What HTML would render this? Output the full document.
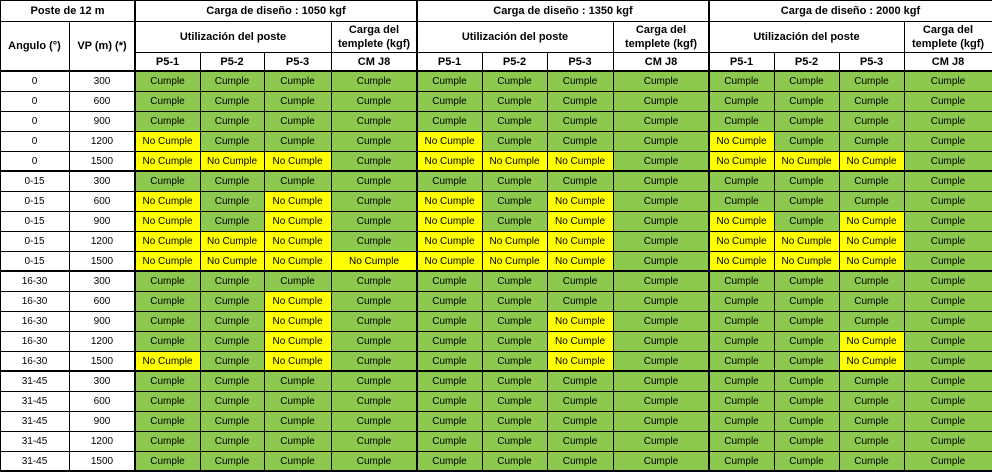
<!DOCTYPE html>
<html><head><meta charset="utf-8">
<style>
*{margin:0;padding:0;box-sizing:border-box}
html,body{width:992px;height:473px;background:#fff;overflow:hidden}
body{position:relative;font-family:"Liberation Sans",Arial,sans-serif;color:#000}
.h{position:absolute;display:flex;align-items:center;justify-content:center;text-align:center;font-weight:bold;font-size:11px;line-height:14px;white-space:nowrap}
#d{position:absolute;left:0;top:71px;width:992px;height:400px;display:grid;
grid-template-columns:69px 66px 65px 64px 67px 86px 65px 65px 66px 96px 65px 65px 65px 88px;
grid-template-rows:repeat(20,20px);font-size:10px;line-height:21px;text-align:center}
#d div{white-space:nowrap;overflow:hidden}
.g{background:#8dc94e}
.y{background:#ffff00}
.w{background:#fff}
.l{position:absolute;background:#000}
</style></head><body>

<div class="h" style="left:0;top:0;width:135px;height:21px">Poste de 12 m</div>
<div class="h" style="left:0;top:21px;width:69px;height:50px">Angulo (°)</div>
<div class="h" style="left:69px;top:21px;width:66px;height:50px">VP (m) (*)</div>

<div class="h" style="left:135px;top:0;width:282px;height:21px">Carga de diseño : 1050 kgf</div>
<div class="h" style="left:135px;top:21px;width:196px;height:31px">Utilización del poste</div>
<div class="h" style="left:331px;top:21px;width:86px;height:31px">Carga del<br>templete (kgf)</div>
<div class="h" style="left:135px;top:52px;width:65px;height:19px">P5-1</div>
<div class="h" style="left:200px;top:52px;width:64px;height:19px">P5-2</div>
<div class="h" style="left:264px;top:52px;width:67px;height:19px">P5-3</div>
<div class="h" style="left:331px;top:52px;width:86px;height:19px">CM J8</div>

<div class="h" style="left:417px;top:0;width:292px;height:21px">Carga de diseño : 1350 kgf</div>
<div class="h" style="left:417px;top:21px;width:196px;height:31px">Utilización del poste</div>
<div class="h" style="left:613px;top:21px;width:96px;height:31px">Carga del<br>templete (kgf)</div>
<div class="h" style="left:417px;top:52px;width:65px;height:19px">P5-1</div>
<div class="h" style="left:482px;top:52px;width:65px;height:19px">P5-2</div>
<div class="h" style="left:547px;top:52px;width:66px;height:19px">P5-3</div>
<div class="h" style="left:613px;top:52px;width:96px;height:19px">CM J8</div>

<div class="h" style="left:709px;top:0;width:283px;height:21px">Carga de diseño : 2000 kgf</div>
<div class="h" style="left:709px;top:21px;width:195px;height:31px">Utilización del poste</div>
<div class="h" style="left:904px;top:21px;width:88px;height:31px">Carga del<br>templete (kgf)</div>
<div class="h" style="left:709px;top:52px;width:65px;height:19px">P5-1</div>
<div class="h" style="left:774px;top:52px;width:65px;height:19px">P5-2</div>
<div class="h" style="left:839px;top:52px;width:65px;height:19px">P5-3</div>
<div class="h" style="left:904px;top:52px;width:88px;height:19px">CM J8</div>

<div id="d">
<div class="w">0</div><div class="w">300</div><div class="g">Cumple</div><div class="g">Cumple</div><div class="g">Cumple</div><div class="g">Cumple</div><div class="g">Cumple</div><div class="g">Cumple</div><div class="g">Cumple</div><div class="g">Cumple</div><div class="g">Cumple</div><div class="g">Cumple</div><div class="g">Cumple</div><div class="g">Cumple</div>
<div class="w">0</div><div class="w">600</div><div class="g">Cumple</div><div class="g">Cumple</div><div class="g">Cumple</div><div class="g">Cumple</div><div class="g">Cumple</div><div class="g">Cumple</div><div class="g">Cumple</div><div class="g">Cumple</div><div class="g">Cumple</div><div class="g">Cumple</div><div class="g">Cumple</div><div class="g">Cumple</div>
<div class="w">0</div><div class="w">900</div><div class="g">Cumple</div><div class="g">Cumple</div><div class="g">Cumple</div><div class="g">Cumple</div><div class="g">Cumple</div><div class="g">Cumple</div><div class="g">Cumple</div><div class="g">Cumple</div><div class="g">Cumple</div><div class="g">Cumple</div><div class="g">Cumple</div><div class="g">Cumple</div>
<div class="w">0</div><div class="w">1200</div><div class="y">No Cumple</div><div class="g">Cumple</div><div class="g">Cumple</div><div class="g">Cumple</div><div class="y">No Cumple</div><div class="g">Cumple</div><div class="g">Cumple</div><div class="g">Cumple</div><div class="y">No Cumple</div><div class="g">Cumple</div><div class="g">Cumple</div><div class="g">Cumple</div>
<div class="w">0</div><div class="w">1500</div><div class="y">No Cumple</div><div class="y">No Cumple</div><div class="y">No Cumple</div><div class="g">Cumple</div><div class="y">No Cumple</div><div class="y">No Cumple</div><div class="y">No Cumple</div><div class="g">Cumple</div><div class="y">No Cumple</div><div class="y">No Cumple</div><div class="y">No Cumple</div><div class="g">Cumple</div>

<div class="w">0-15</div><div class="w">300</div><div class="g">Cumple</div><div class="g">Cumple</div><div class="g">Cumple</div><div class="g">Cumple</div><div class="g">Cumple</div><div class="g">Cumple</div><div class="g">Cumple</div><div class="g">Cumple</div><div class="g">Cumple</div><div class="g">Cumple</div><div class="g">Cumple</div><div class="g">Cumple</div>
<div class="w">0-15</div><div class="w">600</div><div class="y">No Cumple</div><div class="g">Cumple</div><div class="y">No Cumple</div><div class="g">Cumple</div><div class="y">No Cumple</div><div class="g">Cumple</div><div class="y">No Cumple</div><div class="g">Cumple</div><div class="g">Cumple</div><div class="g">Cumple</div><div class="g">Cumple</div><div class="g">Cumple</div>
<div class="w">0-15</div><div class="w">900</div><div class="y">No Cumple</div><div class="g">Cumple</div><div class="y">No Cumple</div><div class="g">Cumple</div><div class="y">No Cumple</div><div class="g">Cumple</div><div class="y">No Cumple</div><div class="g">Cumple</div><div class="y">No Cumple</div><div class="g">Cumple</div><div class="y">No Cumple</div><div class="g">Cumple</div>
<div class="w">0-15</div><div class="w">1200</div><div class="y">No Cumple</div><div class="y">No Cumple</div><div class="y">No Cumple</div><div class="g">Cumple</div><div class="y">No Cumple</div><div class="y">No Cumple</div><div class="y">No Cumple</div><div class="g">Cumple</div><div class="y">No Cumple</div><div class="y">No Cumple</div><div class="y">No Cumple</div><div class="g">Cumple</div>
<div class="w">0-15</div><div class="w">1500</div><div class="y">No Cumple</div><div class="y">No Cumple</div><div class="y">No Cumple</div><div class="y">No Cumple</div><div class="y">No Cumple</div><div class="y">No Cumple</div><div class="y">No Cumple</div><div class="g">Cumple</div><div class="y">No Cumple</div><div class="y">No Cumple</div><div class="y">No Cumple</div><div class="g">Cumple</div>

<div class="w">16-30</div><div class="w">300</div><div class="g">Cumple</div><div class="g">Cumple</div><div class="g">Cumple</div><div class="g">Cumple</div><div class="g">Cumple</div><div class="g">Cumple</div><div class="g">Cumple</div><div class="g">Cumple</div><div class="g">Cumple</div><div class="g">Cumple</div><div class="g">Cumple</div><div class="g">Cumple</div>
<div class="w">16-30</div><div class="w">600</div><div class="g">Cumple</div><div class="g">Cumple</div><div class="y">No Cumple</div><div class="g">Cumple</div><div class="g">Cumple</div><div class="g">Cumple</div><div class="g">Cumple</div><div class="g">Cumple</div><div class="g">Cumple</div><div class="g">Cumple</div><div class="g">Cumple</div><div class="g">Cumple</div>
<div class="w">16-30</div><div class="w">900</div><div class="g">Cumple</div><div class="g">Cumple</div><div class="y">No Cumple</div><div class="g">Cumple</div><div class="g">Cumple</div><div class="g">Cumple</div><div class="y">No Cumple</div><div class="g">Cumple</div><div class="g">Cumple</div><div class="g">Cumple</div><div class="g">Cumple</div><div class="g">Cumple</div>
<div class="w">16-30</div><div class="w">1200</div><div class="g">Cumple</div><div class="g">Cumple</div><div class="y">No Cumple</div><div class="g">Cumple</div><div class="g">Cumple</div><div class="g">Cumple</div><div class="y">No Cumple</div><div class="g">Cumple</div><div class="g">Cumple</div><div class="g">Cumple</div><div class="y">No Cumple</div><div class="g">Cumple</div>
<div class="w">16-30</div><div class="w">1500</div><div class="y">No Cumple</div><div class="g">Cumple</div><div class="y">No Cumple</div><div class="g">Cumple</div><div class="g">Cumple</div><div class="g">Cumple</div><div class="y">No Cumple</div><div class="g">Cumple</div><div class="g">Cumple</div><div class="g">Cumple</div><div class="y">No Cumple</div><div class="g">Cumple</div>

<div class="w">31-45</div><div class="w">300</div><div class="g">Cumple</div><div class="g">Cumple</div><div class="g">Cumple</div><div class="g">Cumple</div><div class="g">Cumple</div><div class="g">Cumple</div><div class="g">Cumple</div><div class="g">Cumple</div><div class="g">Cumple</div><div class="g">Cumple</div><div class="g">Cumple</div><div class="g">Cumple</div>
<div class="w">31-45</div><div class="w">600</div><div class="g">Cumple</div><div class="g">Cumple</div><div class="g">Cumple</div><div class="g">Cumple</div><div class="g">Cumple</div><div class="g">Cumple</div><div class="g">Cumple</div><div class="g">Cumple</div><div class="g">Cumple</div><div class="g">Cumple</div><div class="g">Cumple</div><div class="g">Cumple</div>
<div class="w">31-45</div><div class="w">900</div><div class="g">Cumple</div><div class="g">Cumple</div><div class="g">Cumple</div><div class="g">Cumple</div><div class="g">Cumple</div><div class="g">Cumple</div><div class="g">Cumple</div><div class="g">Cumple</div><div class="g">Cumple</div><div class="g">Cumple</div><div class="g">Cumple</div><div class="g">Cumple</div>
<div class="w">31-45</div><div class="w">1200</div><div class="g">Cumple</div><div class="g">Cumple</div><div class="g">Cumple</div><div class="g">Cumple</div><div class="g">Cumple</div><div class="g">Cumple</div><div class="g">Cumple</div><div class="g">Cumple</div><div class="g">Cumple</div><div class="g">Cumple</div><div class="g">Cumple</div><div class="g">Cumple</div>
<div class="w">31-45</div><div class="w">1500</div><div class="g">Cumple</div><div class="g">Cumple</div><div class="g">Cumple</div><div class="g">Cumple</div><div class="g">Cumple</div><div class="g">Cumple</div><div class="g">Cumple</div><div class="g">Cumple</div><div class="g">Cumple</div><div class="g">Cumple</div><div class="g">Cumple</div><div class="g">Cumple</div>
</div>

<!-- vertical lines -->
<div class="l" style="left:0;top:0;width:1px;height:472px"></div>
<div class="l" style="left:69px;top:21px;width:1px;height:451px"></div>
<div class="l" style="left:134px;top:0;width:2px;height:472px"></div>
<div class="l" style="left:200px;top:52px;width:1px;height:420px"></div>
<div class="l" style="left:264px;top:52px;width:1px;height:420px"></div>
<div class="l" style="left:331px;top:21px;width:1px;height:451px"></div>
<div class="l" style="left:416px;top:0;width:2px;height:472px"></div>
<div class="l" style="left:482px;top:52px;width:1px;height:420px"></div>
<div class="l" style="left:547px;top:52px;width:1px;height:420px"></div>
<div class="l" style="left:613px;top:21px;width:1px;height:451px"></div>
<div class="l" style="left:708px;top:0;width:2px;height:472px"></div>
<div class="l" style="left:774px;top:52px;width:1px;height:420px"></div>
<div class="l" style="left:839px;top:52px;width:1px;height:420px"></div>
<div class="l" style="left:904px;top:21px;width:1px;height:451px"></div>

<!-- horizontal lines -->
<div class="l" style="left:0;top:0;width:992px;height:1px"></div>
<div class="l" style="left:0;top:21px;width:992px;height:1px"></div>
<div class="l" style="left:135px;top:52px;width:857px;height:1px"></div>
<div class="l" style="left:0;top:70px;width:992px;height:2px"></div>
<div class="l" style="left:0;top:91px;width:992px;height:1px"></div>
<div class="l" style="left:0;top:111px;width:992px;height:1px"></div>
<div class="l" style="left:0;top:131px;width:992px;height:1px"></div>
<div class="l" style="left:0;top:151px;width:992px;height:1px"></div>
<div class="l" style="left:0;top:170px;width:992px;height:2px"></div>
<div class="l" style="left:0;top:191px;width:992px;height:1px"></div>
<div class="l" style="left:0;top:211px;width:992px;height:1px"></div>
<div class="l" style="left:0;top:231px;width:992px;height:1px"></div>
<div class="l" style="left:0;top:251px;width:992px;height:1px"></div>
<div class="l" style="left:0;top:270px;width:992px;height:2px"></div>
<div class="l" style="left:0;top:291px;width:992px;height:1px"></div>
<div class="l" style="left:0;top:311px;width:992px;height:1px"></div>
<div class="l" style="left:0;top:331px;width:992px;height:1px"></div>
<div class="l" style="left:0;top:351px;width:992px;height:1px"></div>
<div class="l" style="left:0;top:370px;width:992px;height:2px"></div>
<div class="l" style="left:0;top:391px;width:992px;height:1px"></div>
<div class="l" style="left:0;top:411px;width:992px;height:1px"></div>
<div class="l" style="left:0;top:431px;width:992px;height:1px"></div>
<div class="l" style="left:0;top:451px;width:992px;height:1px"></div>
<div class="l" style="left:0;top:470px;width:992px;height:2px"></div>
</body></html>
